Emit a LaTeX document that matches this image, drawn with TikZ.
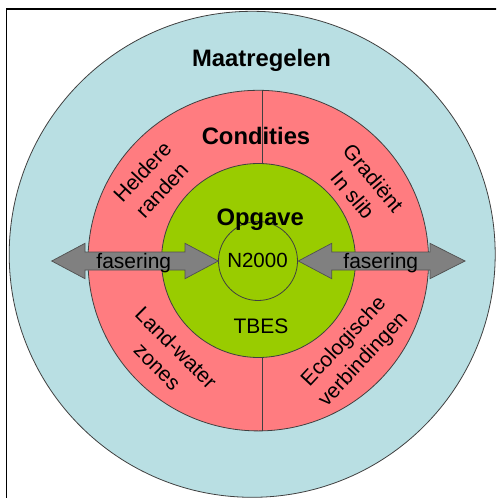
\documentclass[tikz,border=0pt]{standalone}
\usepackage{fontspec}
\setmainfont{Liberation Sans}
\definecolor{blueC}{HTML}{B9DFE3}
\definecolor{pinkC}{HTML}{FF7C80}
\definecolor{greenC}{HTML}{99CC00}
\definecolor{arrowgray}{HTML}{808080}
\definecolor{arrowline}{HTML}{505050}
\definecolor{ringline}{HTML}{404040}
\begin{document}
\begin{tikzpicture}[x=1pt,y=-1pt,
  ring/.style={circle, draw=ringline, line width=0.8pt, inner sep=0pt, outer sep=0pt},
  divider/.style={draw=ringline, line width=0.8pt},
  arrowshape/.style={fill=arrowgray, draw=arrowline, line width=0.7pt, line join=miter},
  bigtitle/.style={font=\fontsize{23.8}{26}\selectfont\bfseries, inner sep=0pt, anchor=base},
  plaintext/.style={font=\fontsize{21}{24}\selectfont, inner sep=0pt, anchor=base},
  slanted/.style={font=\fontsize{21}{26.5}\selectfont, inner sep=0pt, align=center}
]
\useasboundingbox (0,0) rectangle (496,498);
\fill[white] (0,0) rectangle (496,498);
\begin{scope}
\clip (0,0) rectangle (496,498);
% frame
\draw[line width=1.4pt] (6.5,520) -- (6.5,9) -- (520,9);
% rings
\node[ring, fill=blueC, minimum size=486pt] (maat) at (252.2,254.3) {};
\node[ring, fill=pinkC, minimum size=340.6pt] (cond) at (258.3,260.6) {};
\node[ring, fill=greenC, minimum size=194pt] (opg) at (258.5,260.5) {};
% dividers
\coordinate (dt1) at (262.5,90.4);
\coordinate (dt2) at (262.5,163.6);
\coordinate (db1) at (262.5,357.4);
\coordinate (db2) at (262.5,430.8);
\draw[divider] (dt1) -- (dt2);
\draw[divider] (db1) -- (db2);
\node[ring, minimum size=79pt] (kern) at (258,261) {};
% arrows
\draw[arrowshape] (51.7,261) -- (85,243.3) -- (85,252) -- (185,252) -- (185,243.3) -- (218.3,261)
  -- (185,278.7) -- (185,270) -- (85,270) -- (85,278.7) -- cycle;
\draw[arrowshape] (298.3,261) -- (331.7,243.3) -- (331.7,252) -- (430,252) -- (430,243.3) -- (465,261)
  -- (430,278.7) -- (430,270) -- (331.7,270) -- (331.7,278.7) -- cycle;
\end{scope}
% texts
\node[bigtitle] (tmaat) at (261.5,66.7) {Maatregelen};
\node[bigtitle] (tcond) at (256,144) {Condities};
\node[bigtitle] (topg) at (260.3,225) {Opgave};
\node[plaintext, font=\fontsize{20.5}{24}\selectfont] (tn) at (257.5,267) {N2000};
\node[plaintext] (ttbes) at (261,333) {TBES};
\node[plaintext] (tfas1) at (133.8,268.3) {fasering};
\node[plaintext] (tfas2) at (380.8,268.3) {fasering};
\node[slanted, rotate=47] (thel) at (152,181) {Heldere\\randen};
\node[slanted, rotate=-50] (tgra) at (363,186.5) {Gradiënt\\In slib};
\node[slanted, rotate=-45] (tland) at (167,357) {Land-water\\zones};
\node[slanted, rotate=47] (teco) at (354,351) {Ecologische\\verbindingen};
\end{tikzpicture}
\end{document}
